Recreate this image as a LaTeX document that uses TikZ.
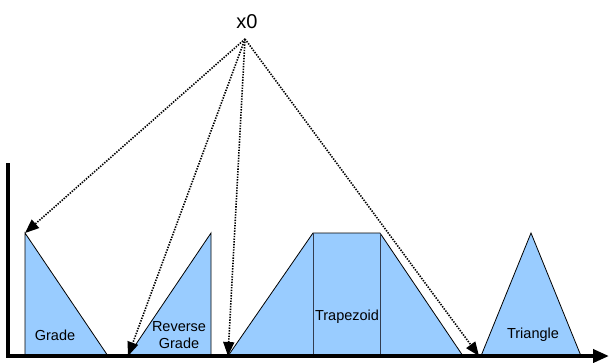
\documentclass[tikz,border=0pt]{standalone}
\usepackage{fontspec}
\setmainfont{Liberation Sans}
\usetikzlibrary{arrows.meta}
\tikzset{
  shapefill/.style={fill={rgb,255:red,153;green,204;blue,255}, draw=black, line width=0.8pt, line join=miter},
  axisline/.style={line width=3.8pt},
  ptr/.style={line width=1.6pt, dash pattern=on 1.4pt off 1.3pt, -{Triangle[length=14pt,width=11pt]}},
  lbl/.style={font=\fontsize{14.5}{17}\selectfont, align=center, inner sep=0pt},
}
\begin{document}
\begin{tikzpicture}[x=1pt,y=-1pt]
\useasboundingbox (0,0) rectangle (609,362);
% shapes
\path[shapefill] (25,233) -- (25,356) -- (108,356) -- cycle;
\path[shapefill] (128,356) -- (211,233) -- (211,356) -- cycle;
\path[shapefill] (228,356) -- (313,233) -- (380,233) -- (463,356) -- cycle;
\draw[line width=1pt, draw={rgb,255:red,50;green,60;blue,80}] (313,233) -- (313,356) (380,233) -- (380,356);
\path[shapefill] (481,356) -- (531,233) -- (581,356) -- cycle;
% labels
\node[lbl] (lgrade) at (55,335) {Grade};
\node[lbl] (lrev) at (179,335.5) {Reverse\\Grade};
\node[lbl] (ltrap) at (347,317) {Trapezoid};
\node[lbl] (ltri) at (533,335) {Triangle};
% axes
\coordinate (ytop) at (8,163);
\coordinate (orig) at (8,356);
\coordinate (xend) at (609,356);
\draw[axisline] (ytop) -- (8,357.9);
\draw[axisline, -{Triangle[length=16pt,width=13pt]}] (6.1,356) -- (xend);
% source
\node[font=\fontsize{20}{24}\selectfont, inner sep=0pt] (x0) at (247,22) {x0};
\coordinate (src) at (245,39);
\coordinate (tgrade) at (25,233);
\coordinate (trev) at (128,356);
\coordinate (ttrap) at (228,356);
\coordinate (ttri) at (479,356);
\draw[ptr] (src) -- (tgrade);
\draw[ptr] (src) -- (trev);
\draw[ptr] (src) -- (ttrap);
\draw[ptr] (src) -- (ttri);
\end{tikzpicture}
\end{document}
